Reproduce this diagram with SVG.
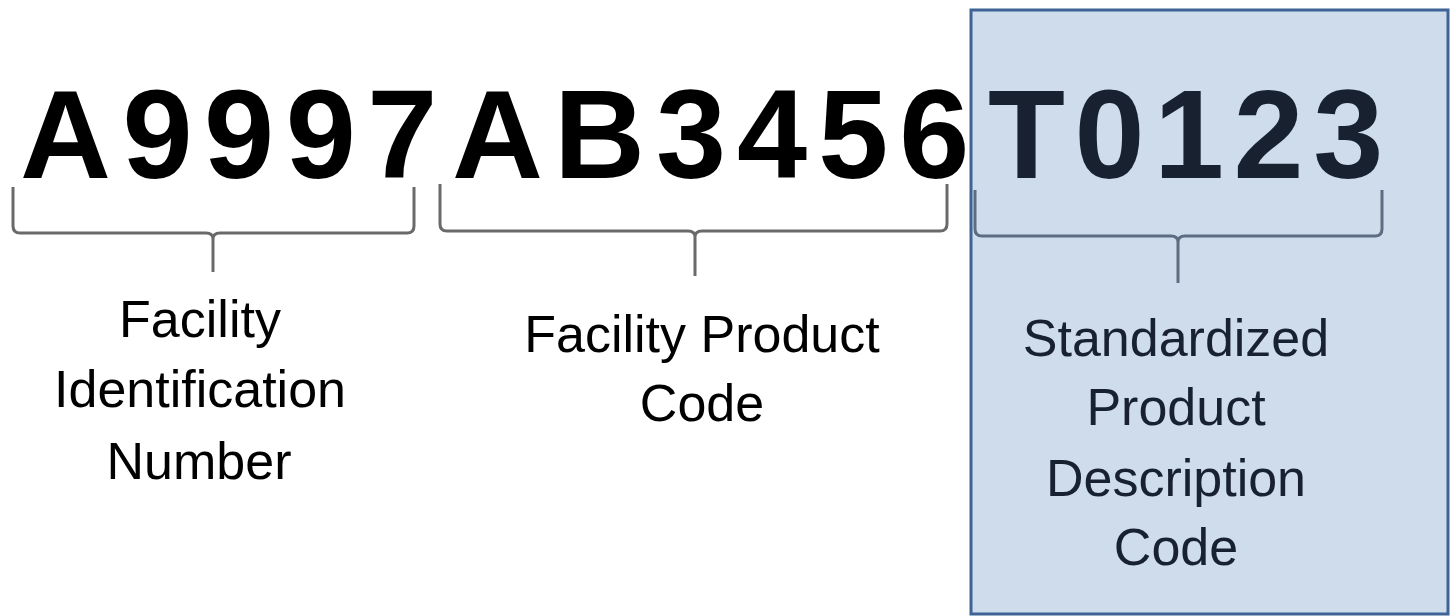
<svg xmlns="http://www.w3.org/2000/svg" width="1450" height="616" viewBox="0 0 1450 616">
<style>
.big{font-family:"Liberation Sans",Arial,sans-serif;font-weight:bold;font-size:126px}
.lbl{font-family:"Liberation Sans",Arial,sans-serif;font-size:52px;text-anchor:middle}
.brace{fill:none;stroke:#6a6a6a;stroke-width:3;stroke-linejoin:round}
.brace-in{fill:none;stroke:#5d6c80;stroke-width:3;stroke-linejoin:round}
</style>
<rect x="0" y="0" width="1450" height="616" fill="#ffffff"/>
<g id="facility-id-code">
<text class="big" x="20" y="178" fill="#000000" letter-spacing="11.5">A9997</text>
</g>
<g id="facility-product-code">
<text class="big" x="452" y="178" fill="#000000" letter-spacing="11">AB3456</text>
</g>
<g id="spdc-box">
<rect x="971" y="10" width="477" height="604" fill="#cfdcec" stroke="#3e6394" stroke-width="3"/>
<text class="big" x="988" y="178" fill="#17212f" letter-spacing="9.5">T0123</text>
</g>
<g id="connectors">
<path class="brace" d="M13,187 V226 Q13,233 20,233 H206 Q213,233 213,239 M414,187 V226 Q414,233 407,233 H220 Q213,233 213,239 V272"/>
<path class="brace" d="M440,184 V224 Q440,231 447,231 H688 Q695,231 695,237 M947,184 V224 Q947,231 940,231 H702 Q695,231 695,237 V276"/>
<path class="brace-in" d="M975,190 V229 Q975,236 982,236 H1171 Q1178,236 1178,242 M1382,190 V229 Q1382,236 1375,236 H1185 Q1178,236 1178,242 V283"/>
</g>
<g id="label-facility-id">
<text class="lbl" x="200" y="337" fill="#000000">Facility</text>
<text class="lbl" x="200" y="407" fill="#000000">Identification</text>
<text class="lbl" x="199" y="479" fill="#000000">Number</text>
</g>
<g id="label-facility-product">
<text class="lbl" x="702" y="352" fill="#000000">Facility Product</text>
<text class="lbl" x="702" y="421" fill="#000000">Code</text>
</g>
<g id="label-spdc">
<text class="lbl" x="1176" y="356" fill="#17212f">Standardized</text>
<text class="lbl" x="1176" y="425" fill="#17212f">Product</text>
<text class="lbl" x="1176" y="496" fill="#17212f">Description</text>
<text class="lbl" x="1176" y="565" fill="#17212f">Code</text>
</g>
</svg>
